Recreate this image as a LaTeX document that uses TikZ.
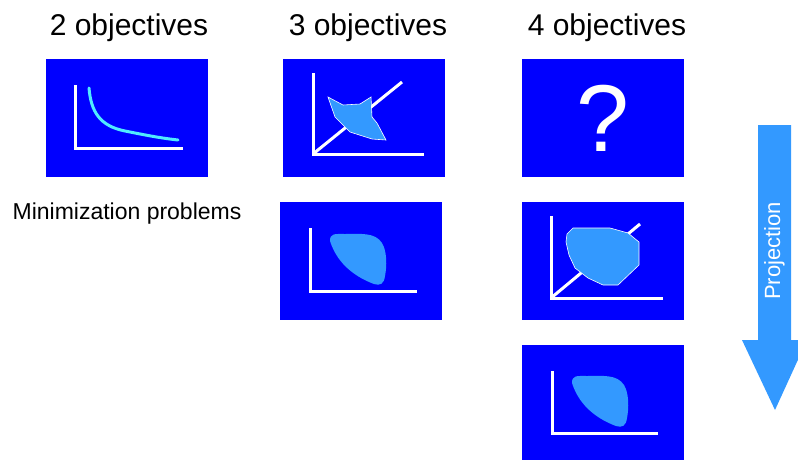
\documentclass[tikz,border=0pt]{standalone}
\usepackage{fontspec}
\setmainfont{Liberation Sans}
\definecolor{panelblue}{RGB}{0,0,255}
\definecolor{front}{RGB}{51,153,255}
\definecolor{curve}{RGB}{80,235,255}
\newcommand{\frontblob}[1]{%
  \fill[front,shift={#1}] (20,-50) .. controls (20,-58) and (25,-57) .. (35,-57)
    .. controls (50,-57) and (65,-59) .. (72,-48)
    .. controls (77,-40) and (77,-25) .. (75,-15)
    .. controls (74,-7) and (70,-5) .. (64,-7)
    .. controls (48,-13) and (28,-25) .. (20,-50) -- cycle;}
\begin{document}
\begin{tikzpicture}
  [x=1pt,y=-1pt,every node/.style={inner sep=0pt}]
  \tikzstyle{panel} = [fill=panelblue,minimum width=162pt,minimum height=118pt,anchor=north west]
  \tikzstyle{heading} = [font=\fontsize{30}{36}\selectfont,anchor=base]
  \tikzstyle{axis} = [draw=white,line width=3pt]
  \tikzstyle{cloud} = [fill=front,draw=white,line width=0.6pt]
  \useasboundingbox (0,0) rectangle (798,459);
  % panels
  \node[panel] (p2) at (46,59) {};
  \node[panel] (p3) at (283,59) {};
  \node[panel] (p3proj) at (280,202) {};
  \node[panel] (p4) at (522,59) {};
  \node[panel] (p4proj) at (522,202) {};
  \node[panel] (p4flat) at (522,345) {};
  % headings
  \node[heading] (t2) at (129,35) {2 objectives};
  \node[heading] (t3) at (368,35) {3 objectives};
  \node[heading] (t4) at (607,35) {4 objectives};
  \node[font=\fontsize{23}{27}\selectfont,anchor=base] (minlabel) at (127,219) {Minimization problems};
  % 2 objectives
  \draw[axis] (75,85) -- (75,148) -- (183,148);
  \draw[draw=curve,line width=3pt,line cap=round] (89,88) .. controls (91,112) and (100,126) .. (125,131)
    .. controls (145,135) and (160,138) .. (178,140);
  % 3 objectives
  \draw[axis] (313,73) -- (313,154) -- (424,154);
  \draw[axis] (313,154) -- (402,82);
  \draw[cloud] (328,97) -- (343,105) -- (360,104) -- (371,97) -- (372,117) -- (377,123)
    -- (386,140) -- (372,139) -- (350,132) -- (335,117) -- cycle;
  \draw[axis] (310,228) -- (310,291) -- (417,291);
  \frontblob{(310,291)}
  % 4 objectives
  \node[text=white,font=\fontsize{95}{100}\selectfont] (q) at (p4.center) {?};
  \draw[axis] (551,216) -- (551,298) -- (663,298);
  \draw[axis] (551,298) -- (640,224);
  \draw[cloud] (573,228) -- (610,228) -- (628,233) -- (639,242) -- (639,265) -- (618,285)
    -- (603,285) -- (588,278) -- (575,268) -- (569,255) -- (566,242) -- (567,234) -- cycle;
  \draw[axis] (552,371) -- (552,433) -- (658,433);
  \frontblob{(552,433)}
  % projection arrow
  \fill[front] (758,125) -- (791,125) -- (791,340) -- (807,340) -- (775,410) -- (742,340) -- (758,340) -- cycle;
  \node[rotate=90,text=white,font=\fontsize{22}{26}\selectfont] (proj) at (774.5,251) {Projection};
\end{tikzpicture}
\end{document}
